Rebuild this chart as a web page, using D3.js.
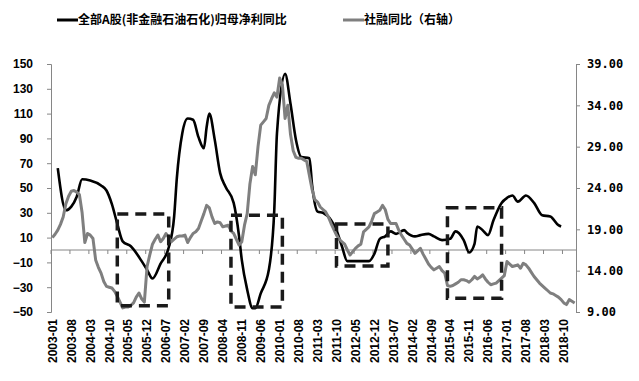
<!DOCTYPE html>
<html>
<head>
<meta charset="utf-8">
<script src="https://cdn.jsdelivr.net/npm/d3@7"></script>
<style>
  body { margin: 0; background: #fff; }
  svg { display: block; }
  .lab { font-family: "Liberation Sans", Arial, sans-serif; font-weight: bold; font-size: 12px; fill: #000; }
  .rlab { font-family: "DejaVu Sans Mono", monospace; font-weight: bold; font-size: 12px; fill: #000; }
  .leg { font-family: "Noto Sans CJK SC", sans-serif; font-weight: bold; font-size: 12px; fill: #000; }
</style>
</head>
<body>
<svg width="639" height="381"></svg>
<script>

// categories: monthly, 2003-01 .. 2019-02
let firstMonth = new Date(2003, 0, 1)
let lastMonth = new Date(2019, 1, 1)
let fmt = d3.timeFormat('%Y-%m')
let months = d3.timeMonth.range(firstMonth, d3.timeMonth.offset(lastMonth, 1)).map(fmt)
let labelStep = 7

// 全部A股(非金融石油石化)归母净利同比 (left axis)
let profitMonths = ['2003-03','2003-06','2003-08','2003-10','2003-12','2004-03','2004-07','2004-09','2004-11',
  '2005-01','2005-03','2005-06','2005-10','2005-12','2006-02','2006-05','2006-08','2006-10','2006-11',
  '2007-01','2007-03','2007-05','2007-07','2007-09','2007-10','2007-11','2008-01','2008-03','2008-05',
  '2008-08','2008-10','2008-11','2009-01','2009-03','2009-04','2009-06','2009-09','2009-11','2009-12',
  '2010-03','2010-05','2010-07','2010-09','2010-12','2011-01','2011-03','2011-05','2011-08','2011-10',
  '2011-12','2012-02','2012-05','2012-10','2012-12','2013-02','2013-04','2013-06','2013-08','2013-11',
  '2013-12','2014-03','2014-05','2014-08','2014-10','2015-01','2015-04','2015-06','2015-09','2015-11',
  '2016-01','2016-02','2016-04','2016-06','2016-08','2016-11','2017-01','2017-03','2017-05','2017-08',
  '2017-11','2018-02','2018-05','2018-08','2018-09']
let profitValues = [66,32,35,43,57,56,52,48,37,
  21,7,3,-9,-16,-23,-11,2,27,58,
  94,106,105,91,82,99,110,89,62,51,
  38,11,-8,-32,-47,-47,-35,-16,32,94,
  142,118,89,75,74,52,31,30,24,16,
  3,-9,-9,-9,-3,9,11,15,13,16,
  14,11,12,13,11,8,9,15,8,-2,
  5,19,16,12,24,38,42,44,39,44,
  38,28,27,20,19]

// 社融同比 (right axis), one value per month
let tsfValues = [18.0,18.4,18.9,19.6,20.5,22.1,23.0,23.6,23.7,23.5,23.2,21.0,
  17.4,18.5,18.3,17.9,15.3,14.4,13.7,12.7,12.1,12.0,11.9,11.5,
  10.9,10.2,9.5,9.6,9.6,9.8,10.1,10.8,11.3,10.6,10.2,14.5,
  15.9,17.2,17.8,18.3,17.5,17.9,18.5,18.0,17.5,17.8,18.1,18.2,
  18.2,18.3,17.4,18.0,18.5,18.7,19.1,20.0,20.9,21.9,21.6,20.5,
  19.7,19.9,19.8,19.3,19.4,19.5,18.8,18.5,17.8,17.1,17.5,19.5,
  20.9,24.5,26.6,25.6,29.0,31.6,32.0,32.4,34.0,34.8,35.5,35.0,
  37.3,36.5,32.4,34.0,30.5,28.5,27.7,27.6,27.6,27.4,27.2,25.5,
  23.8,22.6,22.3,21.7,21.4,21.1,20.5,19.7,19.0,18.3,17.8,17.5,
  17.2,16.5,15.9,16.3,16.7,17.0,17.2,18.7,19.0,19.3,20.0,20.9,
  21.1,21.3,21.9,21.4,20.2,19.7,19.7,19.7,18.9,18.3,17.8,17.3,
  17.1,16.6,16.1,16.4,16.7,16.0,15.4,14.8,14.4,14.1,14.3,14.5,
  14.0,13.7,12.2,12.1,12.2,12.4,12.6,12.9,12.9,12.8,12.6,12.9,
  13.3,13.0,13.2,13.5,13.0,12.6,12.3,12.4,12.5,12.8,13.1,13.4,
  15.1,14.8,14.5,14.6,14.7,14.3,14.9,14.7,14.3,13.8,13.3,12.9,
  12.5,12.2,11.9,11.6,11.3,11.2,11.0,10.8,10.5,10.1,9.9,10.5,
  10.3,10.1]

let leftTicks = d3.range(-50, 151, 20)
let rightTicks = d3.range(9, 40, 5)

// dashed highlight boxes (month span, left-axis value span)
let boxFrom = ['2005-01','2008-07','2011-10','2015-03']
let boxTo   = ['2006-08','2010-02','2013-05','2016-11']
let boxHi   = [29, 28, 21, 34]
let boxLo   = [-45, -46, -13, -39]

let legendNames = ['全部A股(非金融石油石化)归母净利同比', '社融同比（右轴）']

/***** SVG *****/

let svg = d3.select('svg')
let plotL = 51, plotR = 576, plotT = 64, plotB = 312

let x = d3.scaleBand().domain(months).range([plotL, plotR])
let bw = x.bandwidth()
let cx = m => x(m) + bw / 2
let yL = d3.scaleLinear().domain([-50, 150]).range([plotB, plotT])
let yR = d3.scaleLinear().domain([9, 39]).range([plotB, plotT])

let axisCol = '#868686'

// left axis
let gl = svg.append('g').attr('transform', `translate(${plotL},0)`)
  .call(d3.axisLeft(yL).tickValues(leftTicks).tickSize(4).tickPadding(14)
    .tickFormat(d => d < 0 ? '−' + Math.abs(d) : d))
gl.select('.domain').attr('stroke', axisCol)
gl.selectAll('.tick line').attr('stroke', axisCol)
gl.selectAll('.tick text').attr('class', 'lab')

// right axis
let gr = svg.append('g').attr('transform', `translate(${plotR},0)`)
  .call(d3.axisRight(yR).tickValues(rightTicks).tickSize(4).tickPadding(7)
    .tickFormat(d3.format('.2f')))
gr.select('.domain').attr('stroke', axisCol)
gr.selectAll('.tick line').attr('stroke', axisCol)
gr.selectAll('.tick text').attr('class', 'rlab')

// category axis on the zero line, ticks between categories
let labelMonths = months.filter((m, i) => i % labelStep == 0)
let z = yL(0)
svg.append('line').attr('x1', plotL).attr('x2', plotR).attr('y1', z).attr('y2', z)
  .attr('stroke', axisCol)
svg.append('g').selectAll('line').data(labelMonths).enter().append('line')
  .attr('x1', d => x(d)).attr('x2', d => x(d))
  .attr('y1', z).attr('y2', z + 4).attr('stroke', axisCol)

// rotated month labels under the plot
svg.append('g').selectAll('text').data(labelMonths).enter().append('text')
  .attr('class', 'lab')
  .attr('transform', d => `translate(${cx(d)},${plotB + 7}) rotate(-90)`)
  .attr('text-anchor', 'end').attr('dy', '0.36em')
  .text(d => d)

/* Series */

let profit = profitMonths.map((m, i) => ({m: m, v: profitValues[i]}))
let tsf = months.map((m, i) => ({m: m, v: tsfValues[i]})).filter(d => d.v != null)

svg.append('path').datum(profit)
  .attr('fill', 'none').attr('stroke', '#000').attr('stroke-width', 2.6)
  .attr('stroke-linejoin', 'round')
  .attr('d', d3.line().x(d => cx(d.m)).y(d => yL(d.v)).curve(d3.curveMonotoneX))

svg.append('path').datum(tsf)
  .attr('fill', 'none').attr('stroke', '#7f7f7f').attr('stroke-width', 3)
  .attr('stroke-linejoin', 'round')
  .attr('d', d3.line().x(d => cx(d.m)).y(d => yR(d.v)))

// dashed boxes
svg.append('g').selectAll('rect').data(boxFrom).enter().append('rect')
  .attr('x', (d, i) => cx(boxFrom[i]))
  .attr('width', (d, i) => cx(boxTo[i]) - cx(boxFrom[i]))
  .attr('y', (d, i) => yL(boxHi[i]))
  .attr('height', (d, i) => yL(boxLo[i]) - yL(boxHi[i]))
  .attr('fill', 'none').attr('stroke', '#1a1a1a').attr('stroke-width', 3.5)
  .attr('stroke-dasharray', '11,7')

/* Legend */

let legX = [57, 343]
let legCol = ['#000', '#7f7f7f']
let leg = svg.append('g').selectAll('g').data(legendNames).enter().append('g')
  .attr('transform', (d, i) => `translate(${legX[i]},20)`)
leg.append('line').attr('x1', 0).attr('x2', 21).attr('y1', 0).attr('y2', 0)
  .attr('stroke', (d, i) => legCol[i]).attr('stroke-width', 3)
leg.append('text').attr('class', 'leg').attr('x', 21).attr('dy', '0.35em').text(d => d)

</script>
</body>
</html>
